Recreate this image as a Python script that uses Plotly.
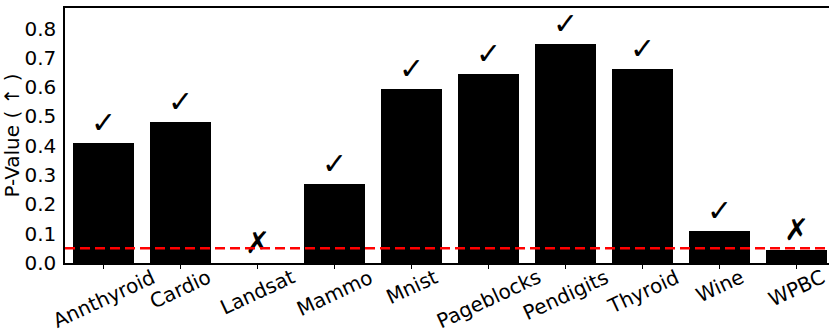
import plotly.graph_objects as go

datasets = ["Annthyroid", "Cardio", "Landsat", "Mammo", "Mnist", "Pageblocks",
            "Pendigits", "Thyroid", "Wine", "WPBC"]
p_values = [0.41, 0.48, 0.0, 0.27, 0.595, 0.645, 0.747, 0.662, 0.11, 0.045]
marks = ["✓", "✓", "✗", "✓", "✓", "✓", "✓", "✓", "✓", "✗"]
threshold = 0.05
y_ticks = [0.0, 0.1, 0.2, 0.3, 0.4, 0.5, 0.6, 0.7, 0.8]

idx = list(range(len(datasets)))
font = "DejaVu Sans"

fig = go.Figure()
fig.add_trace(go.Bar(x=idx, y=p_values, width=0.8, marker=dict(color="black", line_width=0),
                     showlegend=False, hoverinfo="skip"))
fig.add_trace(go.Scatter(x=idx, y=[v + 0.06 for v in p_values], mode="text", text=marks,
                         textposition="middle center",
                         textfont=dict(family=font, size=30, color="black"),
                         showlegend=False, cliponaxis=False, hoverinfo="skip"))
fig.add_shape(type="line", xref="paper", x0=0, x1=1, yref="y", y0=threshold, y1=threshold,
              line=dict(color="red", width=2.5, dash="10px,5px"))

for i, name in zip(idx, datasets):
    fig.add_annotation(x=i, xref="x", y=0, yref="paper", text=name, showarrow=False,
                       textangle=-25, xanchor="center", yanchor="top", yshift=1,
                       font=dict(family=font, size=20, color="black"))

fig.update_layout(
    width=829, height=330,
    margin=dict(l=65, r=0, t=8, b=67, autoexpand=False),
    paper_bgcolor="white", plot_bgcolor="white",
    font=dict(family=font, size=20, color="black"),
    bargap=0,
)
fig.update_xaxes(range=[-0.5, 9.42], tickvals=idx, ticktext=[""] * len(idx),
                 showline=True, linecolor="black", linewidth=1.5, mirror=True,
                 ticks="outside", ticklen=4, tickcolor="black", showgrid=False,
                 zeroline=False, automargin=False)
fig.update_yaxes(range=[0, 0.87], tickvals=y_ticks, tickformat=".1f",
                 showline=True, linecolor="black", linewidth=1.5, mirror=True,
                 ticks="", showgrid=False, ticklabelstandoff=3,
                 zeroline=False, tickfont=dict(size=20), automargin=False,
                 title=dict(text="P-Value ( ↑ )", font=dict(size=20), standoff=4))

fig.write_html("out.html", config={"displayModeBar": False},
               post_script="document.body.style.margin='0px';")
